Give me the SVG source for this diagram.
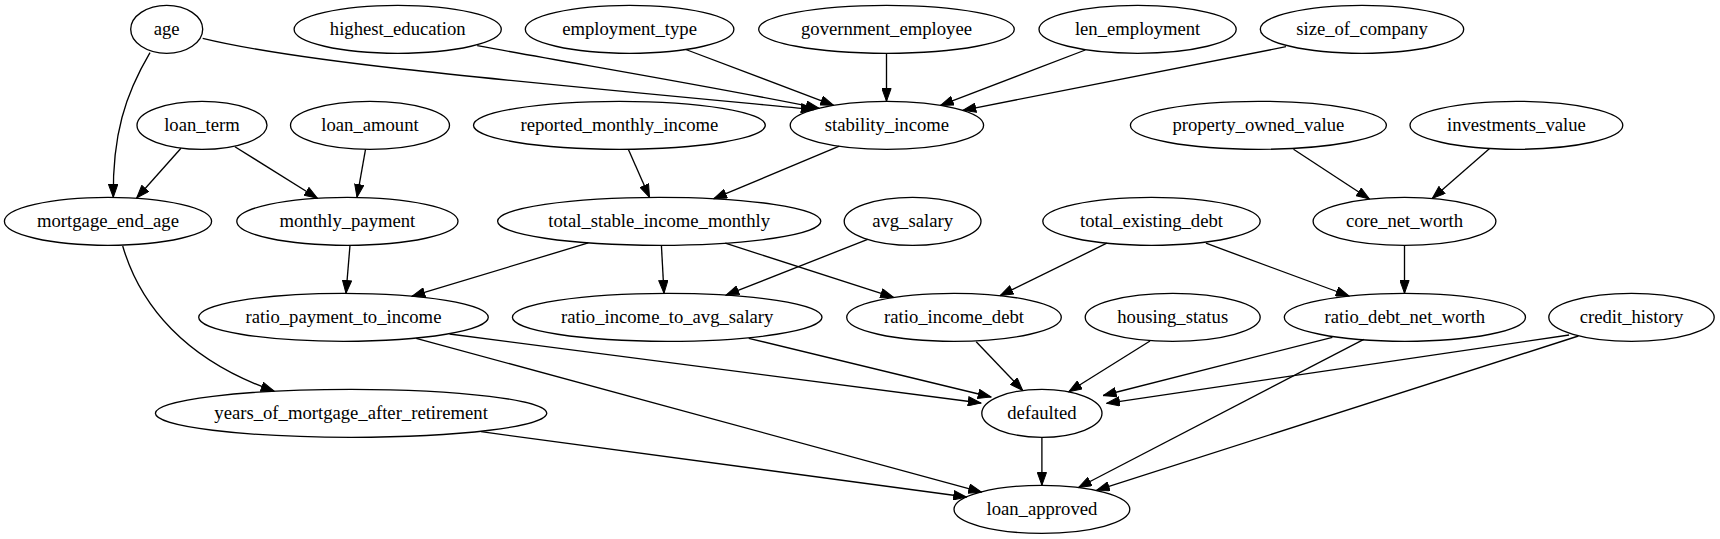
<svg xmlns="http://www.w3.org/2000/svg" width="1720" height="539" viewBox="0 0 1720 539">
<style>
.n ellipse{fill:none;stroke:#000;stroke-width:1.33}
.n text{font-family:'Liberation Serif',serif;font-size:18.67px;text-anchor:middle;fill:#000}
.e path{fill:none;stroke:#000;stroke-width:1.33;marker-end:url(#arr)}
</style>
<defs>
<marker id="arr" viewBox="0 0 14 10" refX="13.3" refY="5" markerWidth="14" markerHeight="10" markerUnits="userSpaceOnUse" orient="auto">
<path d="M0.5,0.4 L13.3,5 L0.5,9.6 z" fill="#000" stroke="#000" stroke-width="1"/>
</marker>
</defs>
<rect width="1720" height="539" fill="#fff"/>
<g id="edges" class="e">
<path d="M202.7,38.3 C300,62 480,78 814,109.5"/>
<path d="M150,52.7 C125,95 112.5,135 113.3,197.3"/>
<path d="M477.2,45.7 C600,68 720,88 819,108.3"/>
<path d="M685.8,49.5 L833.5,105.3"/>
<path d="M886.5,53.3 L886.5,101.3"/>
<path d="M1085.3,50 L940.5,105.4"/>
<path d="M1286,46.7 L963,110.3"/>
<path d="M181,148.3 L136.7,198"/>
<path d="M234.9,146.7 L317.4,198.2"/>
<path d="M365.5,149.3 L357,197.3"/>
<path d="M628.4,149.5 L649.5,197.3"/>
<path d="M839.3,146.2 L713.8,198.7"/>
<path d="M1293.5,149.3 L1369.4,199"/>
<path d="M1489.6,148.5 L1432.3,198.4"/>
<path d="M122.7,246 C140,305 185,360 274,391"/>
<path d="M350,245.3 L346,293.3"/>
<path d="M588.3,242.9 L412,296.2"/>
<path d="M661.4,245.3 L664,293.3"/>
<path d="M725.3,243.2 L893.5,297.3"/>
<path d="M867.7,239.4 L726,295.1"/>
<path d="M1106.8,243.2 L1000.2,295.6"/>
<path d="M1205.9,243.2 L1349,296"/>
<path d="M1404.5,245.3 L1404.5,293.3"/>
<path d="M449.5,334 L981,403"/>
<path d="M416.2,338.3 L981.5,492.1"/>
<path d="M748.7,338.3 L991,397"/>
<path d="M976.2,341.7 L1022.7,390.5"/>
<path d="M1150,341 L1068.8,391.8"/>
<path d="M1332.4,337.3 L1103.3,395.5"/>
<path d="M1363.8,339.3 L1078.5,487.5"/>
<path d="M1569.1,335 L1106.7,403.3"/>
<path d="M1578.4,336 L1096.5,490.4"/>
<path d="M481,431.7 L966.5,497"/>
<path d="M1041.9,437.3 L1041.9,485.3"/>
</g>
<g font-family="Liberation Serif, serif" font-size="18.67">
<g id="age" class="n"><ellipse cx="166.7" cy="29.3" rx="36" ry="24"/><text x="166.7" y="35.3">age</text></g>
<g id="highest_education" class="n"><ellipse cx="397.7" cy="29.3" rx="103.6" ry="24"/><text x="397.7" y="35.3">highest_education</text></g>
<g id="employment_type" class="n"><ellipse cx="629.6" cy="29.3" rx="104.3" ry="24"/><text x="629.6" y="35.3">employment_type</text></g>
<g id="government_employee" class="n"><ellipse cx="886.5" cy="29.3" rx="127.8" ry="24"/><text x="886.5" y="35.3">government_employee</text></g>
<g id="len_employment" class="n"><ellipse cx="1137.6" cy="29.3" rx="98.6" ry="24"/><text x="1137.6" y="35.3">len_employment</text></g>
<g id="size_of_company" class="n"><ellipse cx="1362" cy="29.3" rx="101.7" ry="24"/><text x="1362" y="35.3">size_of_company</text></g>
<g id="loan_term" class="n"><ellipse cx="202" cy="125.3" rx="65" ry="24"/><text x="202" y="131.3">loan_term</text></g>
<g id="loan_amount" class="n"><ellipse cx="370" cy="125.3" rx="79.5" ry="24"/><text x="370" y="131.3">loan_amount</text></g>
<g id="reported_monthly_income" class="n"><ellipse cx="619.4" cy="125.3" rx="145.9" ry="24"/><text x="619.4" y="131.3">reported_monthly_income</text></g>
<g id="stability_income" class="n"><ellipse cx="886.9" cy="125.3" rx="96.7" ry="24"/><text x="886.9" y="131.3">stability_income</text></g>
<g id="property_owned_value" class="n"><ellipse cx="1258.4" cy="125.3" rx="128" ry="24"/><text x="1258.4" y="131.3">property_owned_value</text></g>
<g id="investments_value" class="n"><ellipse cx="1516.4" cy="125.3" rx="106.4" ry="24"/><text x="1516.4" y="131.3">investments_value</text></g>
<g id="mortgage_end_age" class="n"><ellipse cx="108" cy="221.3" rx="103.6" ry="24"/><text x="108" y="227.3">mortgage_end_age</text></g>
<g id="monthly_payment" class="n"><ellipse cx="347.4" cy="221.3" rx="110.6" ry="24"/><text x="347.4" y="227.3">monthly_payment</text></g>
<g id="total_stable_income_monthly" class="n"><ellipse cx="659.2" cy="221.3" rx="161.6" ry="24"/><text x="659.2" y="227.3">total_stable_income_monthly</text></g>
<g id="avg_salary" class="n"><ellipse cx="912.6" cy="221.3" rx="68.4" ry="24"/><text x="912.6" y="227.3">avg_salary</text></g>
<g id="total_existing_debt" class="n"><ellipse cx="1151.5" cy="221.3" rx="108.7" ry="24"/><text x="1151.5" y="227.3">total_existing_debt</text></g>
<g id="core_net_worth" class="n"><ellipse cx="1404.5" cy="221.3" rx="91.4" ry="24"/><text x="1404.5" y="227.3">core_net_worth</text></g>
<g id="ratio_payment_to_income" class="n"><ellipse cx="343.5" cy="317.3" rx="144.8" ry="24"/><text x="343.5" y="323.3">ratio_payment_to_income</text></g>
<g id="ratio_income_to_avg_salary" class="n"><ellipse cx="667.2" cy="317.3" rx="154.8" ry="24"/><text x="667.2" y="323.3">ratio_income_to_avg_salary</text></g>
<g id="ratio_income_debt" class="n"><ellipse cx="954" cy="317.3" rx="107.3" ry="24"/><text x="954" y="323.3">ratio_income_debt</text></g>
<g id="housing_status" class="n"><ellipse cx="1172.7" cy="317.3" rx="87.5" ry="24"/><text x="1172.7" y="323.3">housing_status</text></g>
<g id="ratio_debt_net_worth" class="n"><ellipse cx="1404.9" cy="317.3" rx="120.6" ry="24"/><text x="1404.9" y="323.3">ratio_debt_net_worth</text></g>
<g id="credit_history" class="n"><ellipse cx="1631.5" cy="317.3" rx="82.7" ry="24"/><text x="1631.5" y="323.3">credit_history</text></g>
<g id="years_of_mortgage_after_retirement" class="n"><ellipse cx="351.1" cy="413.3" rx="195.7" ry="24"/><text x="351.1" y="419.3">years_of_mortgage_after_retirement</text></g>
<g id="defaulted" class="n"><ellipse cx="1041.9" cy="413.3" rx="60.1" ry="24"/><text x="1041.9" y="419.3">defaulted</text></g>
<g id="loan_approved" class="n"><ellipse cx="1041.9" cy="509.3" rx="87.9" ry="24"/><text x="1041.9" y="515.3">loan_approved</text></g>
</g>
</svg>
